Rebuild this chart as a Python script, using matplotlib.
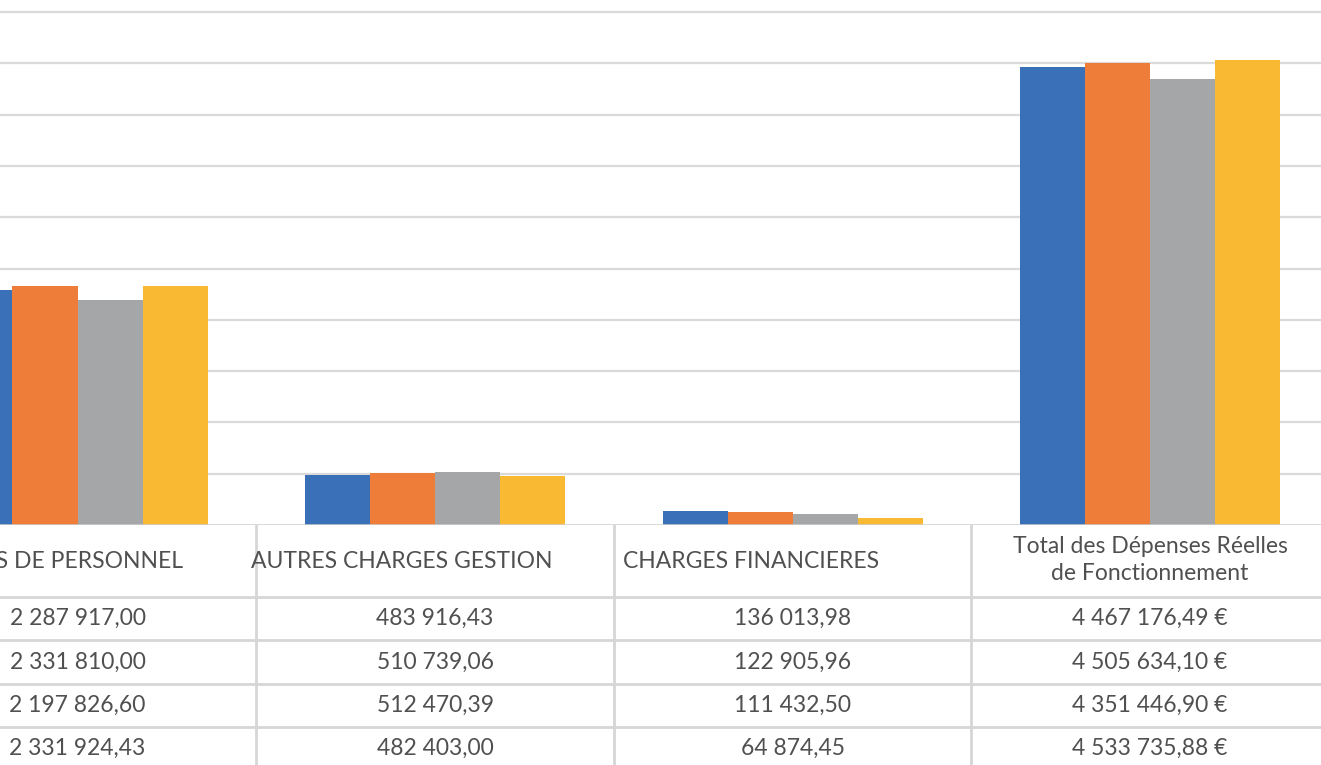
import matplotlib
matplotlib.use("Agg")
import matplotlib.pyplot as plt
import numpy as np

# Data (visible part of the chart, one value per year series)
categories = ["CHARGES DE PERSONNEL", "AUTRES CHARGES GESTION",
              "CHARGES FINANCIERES", "Total des Dépenses Réelles\nde Fonctionnement"]
series_1 = [2287917.00, 483916.43, 136013.98, 4467176.49]
series_2 = [2331810.00, 510739.06, 122905.96, 4505634.10]
series_3 = [2197826.60, 512470.39, 111432.50, 4351446.90]
series_4 = [2331924.43, 482403.00, 64874.45, 4533735.88]
all_series = [series_1, series_2, series_3, series_4]
colors = ["#3A70B8", "#ED7D38", "#A5A6A8", "#FAB932"]
gridline_values = np.arange(0, 5000001, 500000)

text_color = "#505050"
line_color = "#D6D6D6"
plt.rcParams['font.family'] = ['Lato', 'DejaVu Sans']


def fmt(v, euro=False):
    s = f"{v:,.2f}".replace(",", " ").replace(".", ",")
    return s + " €" if euro else s


W, H = 1321, 765
fig = plt.figure(figsize=(W / 100, H / 100), dpi=100)

# pixel layout: column width 357.5 px, first category centred at x=77.5 px
col_w = 357.5
x0 = 77.5
xlim = (-x0 / col_w, (W - x0) / col_w)
base_px = 525
px_per_m = 102.6

# chart area
ax = fig.add_axes([0, 1 - base_px / H, 1, base_px / H])
ax.set_xlim(*xlim)
ax.set_ylim(0, base_px / px_per_m * 1e6)
for gv in gridline_values[1:]:
    ax.axhline(gv, color="#DADADA", lw=1.6, zorder=0)
ax.axhline(0, color="#CFCFCF", lw=1.8, zorder=3)

x = np.arange(len(categories))
bw = 65 / col_w
for i, (vals, c) in enumerate(zip(all_series, colors)):
    ax.bar(x + (i - 1.5) * bw, vals, width=bw, color=c, zorder=2)
ax.axis("off")

# data table
tab = fig.add_axes([0, 0, 1, (H - base_px) / H])
tab.set_xlim(*xlim)
tab.set_ylim(H - base_px, 0)
tab.axis("off")

row_lines = [72, 115, 159, 202]
for yl in row_lines:
    tab.axhline(yl, color=line_color, lw=2)
for xb in [0.5, 1.5, 2.5]:
    tab.axvline(xb, color=line_color, lw=2)

# header labels (first one is cut by the left edge, as in the source)
fs = 16.5
tab.text(0.295, 36, categories[0], ha="right", va="center", fontsize=fs, color=text_color)
tab.text(0.908, 36, categories[1], ha="center", va="center", fontsize=fs, color=text_color)
tab.text(1.884, 36, categories[2], ha="center", va="center", fontsize=fs, color=text_color)
tab.text(3.0, 35, categories[3], ha="center", va="center", fontsize=fs, color=text_color,
         linespacing=1.32)

row_centers = [93, 137, 180, 223]
for r, vals in enumerate(all_series):
    for j, v in enumerate(vals):
        tab.text(j, row_centers[r], fmt(v, euro=(j == 3)), ha="center", va="center",
                 fontsize=fs, color=text_color)

fig.savefig("out.png", dpi=100)
